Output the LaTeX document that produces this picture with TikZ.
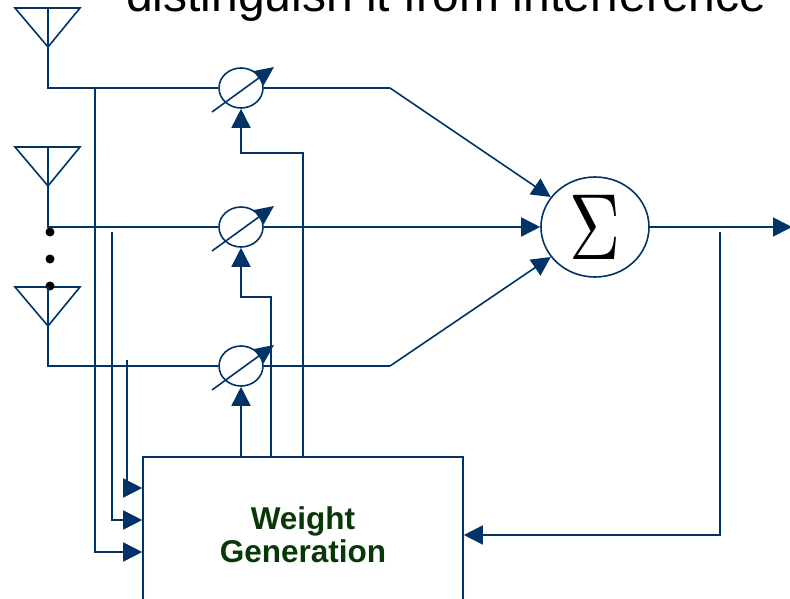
\documentclass[tikz,border=0pt]{standalone}
\usepackage{fontspec}
\setmainfont{Liberation Sans}
\usetikzlibrary{arrows.meta, shapes.geometric, positioning, calc}
\definecolor{wire}{RGB}{0,51,102}
\definecolor{label}{RGB}{8,56,8}

\begin{document}
\begin{tikzpicture}[x=1pt, y=1pt, >={Triangle[length=19pt,width=19pt]},
        line width=1.6pt, draw=wire, node distance=139pt, on grid,
        shifter/.style={ellipse, draw, minimum width=44pt, minimum height=40pt, inner sep=0pt},
        adder/.style={ellipse, draw, minimum width=108pt, minimum height=100pt, inner sep=0pt},
        block/.style={rectangle, draw, minimum width=320pt, minimum height=156pt, align=center,
            text=label, font=\bfseries\fontsize{31.5}{33}\selectfont},
        tune/.style={-{Triangle[length=19pt,width=17pt]}},
        dot/.style={circle, fill=black, inner sep=0pt, minimum size=9pt}]
        \useasboundingbox (0,0) rectangle (790,-599);
        \clip (0,0) rectangle (790,-599);
        \node[anchor=base west, font=\fontsize{48}{48}\selectfont] (title) at (122,-12) {distinguish it from interference};
        % antennas
        \coordinate (a1) at (48,-8);
        \coordinate (a2) at (48,-147);
        \coordinate (a3) at (48,-287);
        \foreach \a in {a1,a2,a3}
            \draw (\a) ++(-33,0) -- ++(65,0) -- ++(-32,-39) -- cycle;
        \node[dot] (d1) at (50,-232) {};
        \node[dot] (d2) at (50,-259) {};
        \node[dot] (d3) at (50,-286) {};
        % weights and combiner
        \node[shifter] (w1) at (241,-88) {};
        \node[shifter] (w2) [below=of w1] {};
        \node[shifter] (w3) [below=of w2] {};
        \node[adder] (sum) at (595,-227) {\scalebox{7.06}[9.4]{$\Sigma$}};
        \node[block] (wg) at (303,-535) {Weight\\Generation};
        \foreach \w in {w1,w2,w3}
            \draw[tune] ($(\w)+(-29,-24)$) -- ($(\w)+(33,21)$);
        \coordinate (k1) at (390,-88);
        \coordinate (k3) at (390,-366);
        \coordinate (out) at (792,-227);
        \coordinate (fb) at (720,-232);
        \coordinate (c1) at (303,-153);
        \coordinate (c2) at (271,-297);
        \coordinate (t1) at (95,-88);
        \coordinate (t2) at (112,-232);
        \coordinate (t3) at (127,-360);
        \draw (a1) |- (w1);
        \draw (a2) |- (w2);
        \draw (a3) |- (w3);
        \draw (w1) -- (k1);
        \draw (w3) -- (k3);
        \path[->]
        (k1) edge (sum)
        (w2) edge (sum)
        (k3) edge (sum)
        (sum) edge (out)
        ;
        \draw[->] (fb) |- (wg);
        \draw[->] (wg.north -| c1) -- (c1) -| (w1);
        \draw[->] (wg.north -| c2) -- (c2) -| (w2);
        \draw[->] (wg.north -| w3) -- (w3);
        \draw[->] (t3) |- ([yshift=47pt]wg.west);
        \draw[->] (t2) |- ([yshift=15pt]wg.west);
        \draw[->] (t1) |- ([yshift=-17pt]wg.west);
    \end{tikzpicture}
\end{document}
